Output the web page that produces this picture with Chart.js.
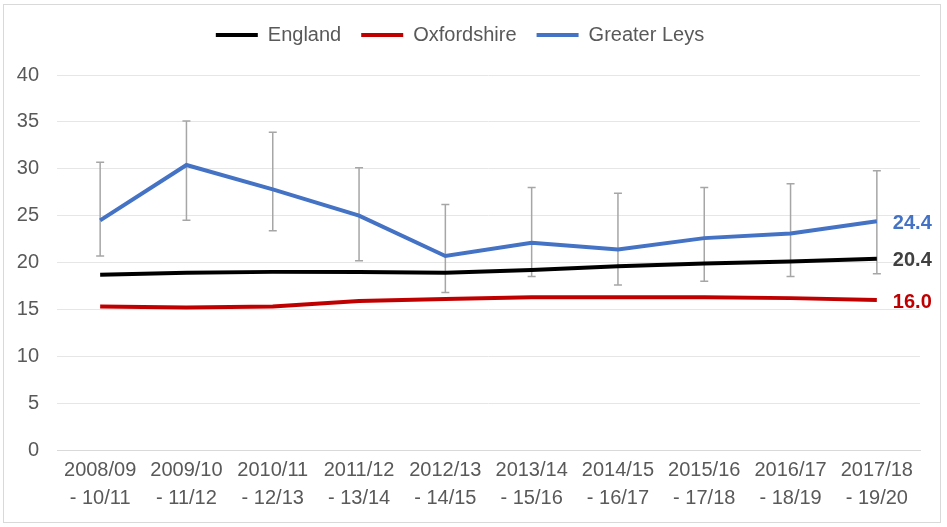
<!DOCTYPE html>
<html>
<head>
<meta charset="utf-8">
<script src="https://cdn.jsdelivr.net/npm/chart.js@4/dist/chart.umd.min.js"></script>
<style>
  html, body { margin: 0; padding: 0; background: #fff; }
  #wrap { position: relative; width: 947px; height: 527px; }
</style>
</head>
<body>
<div id="wrap"><canvas id="c" width="947" height="527"></canvas></div>
<script>
const categories = [
  ["2008/09", "- 10/11"], ["2009/10", "- 11/12"], ["2010/11", "- 12/13"],
  ["2011/12", "- 13/14"], ["2012/13", "- 14/15"], ["2013/14", "- 15/16"],
  ["2014/15", "- 16/17"], ["2015/16", "- 17/18"], ["2016/17", "- 18/19"],
  ["2017/18", "- 19/20"]
];
const england      = [18.7, 18.9, 19.0, 19.0, 18.9, 19.2, 19.6, 19.9, 20.1, 20.4];
const oxfordshire  = [15.3, 15.2, 15.3, 15.9, 16.1, 16.3, 16.3, 16.3, 16.2, 16.0];
const greaterLeys  = [24.5, 30.4, 27.8, 25.0, 20.7, 22.1, 21.4, 22.6, 23.1, 24.4];
const leysLower    = [20.7, 24.5, 23.4, 20.2, 16.8, 18.5, 17.6, 18.0, 18.5, 18.8];
const leysUpper    = [30.7, 35.1, 33.9, 30.1, 26.2, 28.0, 27.4, 28.0, 28.4, 29.8];
const endLabels    = ["20.4", "16.0", "24.4"];
const yTicks       = [0, 5, 10, 15, 20, 25, 30, 35, 40];

const FONT = "'Liberation Sans', Arial, sans-serif";
const colEngland = "#000000", colOxon = "#c00000", colLeys = "#4472c4";

const frame = {
  id: 'frame',
  beforeDraw(chart) {
    const ctx = chart.ctx;
    ctx.save();
    ctx.fillStyle = '#fff';
    ctx.fillRect(0, 0, chart.width, chart.height);
    ctx.strokeStyle = '#d9d9d9';
    ctx.lineWidth = 1;
    ctx.strokeRect(3.5, 4.5, 937, 518);
    ctx.restore();
  }
};

const spacer = {
  id: 'spacer',
  beforeInit(chart) {
    const box = {
      position: 'top', weight: 100, fullSize: true, options: {},
      left: 0, top: 0, right: 0, bottom: 0, width: 0, height: 0,
      isHorizontal() { return true; },
      getPadding() { return { top: 0, left: 0, right: 0, bottom: 0 }; },
      update(maxWidth) { this.width = maxWidth; this.height = 20; },
      draw() {}
    };
    Chart.layouts.addBox(chart, box);
  }
};

const errorBars = {
  id: 'errorBars',
  beforeDatasetsDraw(chart) {
    const ctx = chart.ctx, x = chart.scales.x, y = chart.scales.y;
    ctx.save();
    ctx.strokeStyle = '#a6a6a6';
    ctx.lineWidth = 1.5;
    leysLower.forEach((lo, i) => {
      const px = x.getPixelForValue(i);
      const y1 = y.getPixelForValue(lo), y2 = y.getPixelForValue(leysUpper[i]);
      ctx.beginPath();
      ctx.moveTo(px, y1); ctx.lineTo(px, y2);
      ctx.moveTo(px - 4, y1); ctx.lineTo(px + 4, y1);
      ctx.moveTo(px - 4, y2); ctx.lineTo(px + 4, y2);
      ctx.stroke();
    });
    ctx.restore();
  }
};

const lastLabels = {
  id: 'lastLabels',
  afterDatasetsDraw(chart) {
    const ctx = chart.ctx;
    ctx.save();
    ctx.font = "bold 20px " + FONT;
    ctx.textAlign = 'left';
    ctx.textBaseline = 'middle';
    const labelColors = ['#404040', colOxon, colLeys];
    chart.data.datasets.forEach((ds, di) => {
      const meta = chart.getDatasetMeta(di);
      const pt = meta.data[meta.data.length - 1];
      ctx.fillStyle = labelColors[di];
      ctx.fillText(endLabels[di], pt.x + 16, pt.y + 2);
    });
    ctx.restore();
  }
};

new Chart(document.getElementById('c'), {
  type: 'line',
  data: {
    labels: categories,
    datasets: [
      { label: 'England', data: england, borderColor: colEngland, backgroundColor: colEngland, borderWidth: 4, pointRadius: 0, tension: 0 },
      { label: 'Oxfordshire', data: oxfordshire, borderColor: colOxon, backgroundColor: colOxon, borderWidth: 4, pointRadius: 0, tension: 0 },
      { label: 'Greater Leys', data: greaterLeys, borderColor: colLeys, backgroundColor: colLeys, borderWidth: 4, pointRadius: 0, tension: 0 }
    ]
  },
  options: {
    responsive: false,
    animation: false,
    devicePixelRatio: 1,
    layout: { padding: { top: 5, right: 27, left: 0, bottom: 0 } },
    plugins: {
      legend: {
        position: 'top',
        labels: {
          boxWidth: 42, boxHeight: 4, padding: 20,
          color: '#595959',
          font: { family: FONT, size: 20 },
          generateLabels(chart) {
            const items = Chart.defaults.plugins.legend.labels.generateLabels(chart);
            items.forEach(it => { it.lineWidth = 0; });
            return items;
          }
        }
      },
      tooltip: { enabled: false }
    },
    scales: {
      x: {
        offset: true,
        grid: { display: false, drawTicks: false, offset: true },
        border: { display: true, color: '#d9d9d9', width: 1 },
        ticks: { color: '#595959', font: { family: FONT, size: 20, lineHeight: 1.4 }, padding: 6, maxRotation: 0, autoSkip: false },
        afterFit(scale) { scale.height = 77; }
      },
      y: {
        min: 0, max: 40,
        afterBuildTicks(scale) { scale.ticks = yTicks.map(v => ({ value: v })); },
        grid: { color: '#e6e6e6', lineWidth: 1, drawTicks: false },
        border: { display: false },
        ticks: { color: '#595959', font: { family: FONT, size: 20 }, padding: 18 },
        afterFit(scale) { scale.width = 57; }
      }
    }
  },
  plugins: [frame, spacer, errorBars, lastLabels]
});
</script>
</body>
</html>
